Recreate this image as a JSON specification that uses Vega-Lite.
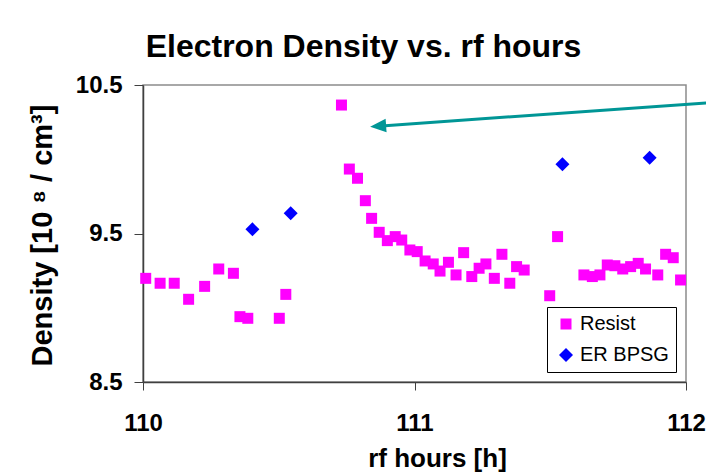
{
  "$schema": "https://vega.github.io/schema/vega-lite/v6.json",
  "width": 543,
  "height": 297,
  "autosize": "none",
  "padding": {"left": 143, "top": 85, "right": 20, "bottom": 90},
  "background": "white",
  "title": {
    "text": "Electron Density vs. rf hours",
    "font": "Liberation Sans",
    "fontSize": 32,
    "fontWeight": "bold",
    "color": "black",
    "anchor": "middle",
    "frame": "group",
    "dx": -51,
    "baseline": "alphabetic",
    "offset": -16
  },
  "config": {
    "font": "Liberation Sans",
    "view": {"stroke": "#8c8c8c", "strokeWidth": 1.5},
    "legend": {
      "orient": "none",
      "legendX": 404,
      "legendY": 222,
      "fillColor": "white",
      "strokeColor": "black",
      "padding": 7,
      "labelFont": "Liberation Sans",
      "labelFontSize": 20,
      "labelColor": "black",
      "symbolSize": 110,
      "symbolOffset": 2,
      "labelOffset": 4,
      "rowPadding": 11,
      "symbolStrokeWidth": 0,
      "symbolOpacity": 1
    }
  },
  "datasets": {
    "points": [
      {"series": "Resist", "hours": 110.010, "density": 9.198},
      {"series": "Resist", "hours": 110.063, "density": 9.165},
      {"series": "Resist", "hours": 110.115, "density": 9.165},
      {"series": "Resist", "hours": 110.168, "density": 9.057},
      {"series": "Resist", "hours": 110.227, "density": 9.144},
      {"series": "Resist", "hours": 110.279, "density": 9.261},
      {"series": "Resist", "hours": 110.333, "density": 9.232},
      {"series": "Resist", "hours": 110.357, "density": 8.940},
      {"series": "Resist", "hours": 110.386, "density": 8.929},
      {"series": "Resist", "hours": 110.502, "density": 8.929},
      {"series": "Resist", "hours": 110.526, "density": 9.090},
      {"series": "Resist", "hours": 110.731, "density": 10.365},
      {"series": "Resist", "hours": 110.760, "density": 9.934},
      {"series": "Resist", "hours": 110.790, "density": 9.872},
      {"series": "Resist", "hours": 110.819, "density": 9.721},
      {"series": "Resist", "hours": 110.842, "density": 9.602},
      {"series": "Resist", "hours": 110.870, "density": 9.508},
      {"series": "Resist", "hours": 110.900, "density": 9.452},
      {"series": "Resist", "hours": 110.929, "density": 9.479},
      {"series": "Resist", "hours": 110.953, "density": 9.456},
      {"series": "Resist", "hours": 110.983, "density": 9.389},
      {"series": "Resist", "hours": 111.010, "density": 9.378},
      {"series": "Resist", "hours": 111.039, "density": 9.315},
      {"series": "Resist", "hours": 111.069, "density": 9.295},
      {"series": "Resist", "hours": 111.094, "density": 9.247},
      {"series": "Resist", "hours": 111.125, "density": 9.306},
      {"series": "Resist", "hours": 111.153, "density": 9.221},
      {"series": "Resist", "hours": 111.181, "density": 9.371},
      {"series": "Resist", "hours": 111.211, "density": 9.210},
      {"series": "Resist", "hours": 111.238, "density": 9.266},
      {"series": "Resist", "hours": 111.263, "density": 9.295},
      {"series": "Resist", "hours": 111.294, "density": 9.198},
      {"series": "Resist", "hours": 111.322, "density": 9.360},
      {"series": "Resist", "hours": 111.351, "density": 9.165},
      {"series": "Resist", "hours": 111.376, "density": 9.277},
      {"series": "Resist", "hours": 111.404, "density": 9.254},
      {"series": "Resist", "hours": 111.498, "density": 9.081},
      {"series": "Resist", "hours": 111.527, "density": 9.479},
      {"series": "Resist", "hours": 111.624, "density": 9.221},
      {"series": "Resist", "hours": 111.655, "density": 9.210},
      {"series": "Resist", "hours": 111.683, "density": 9.221},
      {"series": "Resist", "hours": 111.710, "density": 9.288},
      {"series": "Resist", "hours": 111.738, "density": 9.283},
      {"series": "Resist", "hours": 111.767, "density": 9.261},
      {"series": "Resist", "hours": 111.796, "density": 9.277},
      {"series": "Resist", "hours": 111.824, "density": 9.299},
      {"series": "Resist", "hours": 111.851, "density": 9.261},
      {"series": "Resist", "hours": 111.896, "density": 9.221},
      {"series": "Resist", "hours": 111.925, "density": 9.360},
      {"series": "Resist", "hours": 111.953, "density": 9.337},
      {"series": "Resist", "hours": 111.980, "density": 9.187},
      {"series": "ER BPSG", "hours": 110.403, "density": 9.528},
      {"series": "ER BPSG", "hours": 110.544, "density": 9.636},
      {"series": "ER BPSG", "hours": 111.545, "density": 9.966},
      {"series": "ER BPSG", "hours": 111.866, "density": 10.010}
    ],
    "arrowLine": [
      {"hours": 110.866, "density": 10.223},
      {"hours": 112.2, "density": 10.395}
    ],
    "arrowHead": [
      {"hours": 110.866, "density": 10.223}
    ]
  },
  "layer": [
    {
      "data": {"name": "points"},
      "mark": {"type": "point", "filled": true, "opacity": 1, "strokeWidth": 0},
      "encoding": {
        "x": {
          "field": "hours",
          "type": "quantitative",
          "scale": {"domain": [110, 112], "nice": false, "zero": false},
          "axis": {
            "values": [110, 111, 112],
            "tickCount": 3,
            "tickMinStep": 0.5,
            "format": ".0f",
            "grid": false,
            "labelOverlap": false,
            "domainColor": "#404040",
            "domainWidth": 1.5,
            "tickColor": "#404040",
            "tickWidth": 1,
            "tickSize": 8,
            "labelFont": "Liberation Sans",
            "labelFontSize": 24,
            "labelFontWeight": "bold",
            "labelColor": "black",
            "labelPadding": 21,
            "labelFlush": false,
            "title": "rf hours [h]",
            "titleFont": "Liberation Sans",
            "titleFontSize": 26,
            "titleFontWeight": "bold",
            "titleColor": "black",
            "titleX": 294,
            "titleY": 84,
            "titleBaseline": "alphabetic"
          }
        },
        "y": {
          "field": "density",
          "type": "quantitative",
          "scale": {"domain": [8.5, 10.5], "nice": false, "zero": false},
          "axis": {
            "values": [8.5, 9.5, 10.5],
            "tickCount": 3,
            "tickMinStep": 0.5,
            "format": ".1f",
            "grid": false,
            "labelOverlap": false,
            "domainColor": "#404040",
            "domainWidth": 1.5,
            "tickColor": "#404040",
            "tickWidth": 1,
            "tickSize": 9,
            "labelFont": "Liberation Sans",
            "labelFontSize": 24,
            "labelFontWeight": "bold",
            "labelColor": "black",
            "labelPadding": 12,
            "labelFlush": false,
            "title": "Density [10 ⁸ / cm³]",
            "titleFont": "Liberation Sans",
            "titleFontSize": 29,
            "titleFontWeight": "bold",
            "titleColor": "black",
            "titleX": -92,
            "titleY": 150,
            "titleBaseline": "alphabetic"
          }
        },
        "color": {
          "field": "series",
          "type": "nominal",
          "scale": {"domain": ["Resist", "ER BPSG"], "range": ["#ff00ff", "#0000ff"]},
          "legend": {"title": null}
        },
        "shape": {
          "field": "series",
          "type": "nominal",
          "scale": {"domain": ["Resist", "ER BPSG"], "range": ["square", "diamond"]},
          "legend": {"title": null}
        },
        "size": {
          "field": "series",
          "type": "nominal",
          "scale": {"domain": ["Resist", "ER BPSG"], "range": [121, 196]},
          "legend": null
        }
      }
    },
    {
      "data": {"name": "arrowLine"},
      "mark": {"type": "line", "color": "#009696", "strokeWidth": 3, "clip": false},
      "encoding": {
        "x": {"field": "hours", "type": "quantitative"},
        "y": {"field": "density", "type": "quantitative"}
      }
    },
    {
      "data": {"name": "arrowHead"},
      "mark": {"type": "point", "filled": true, "opacity": 1, "color": "#009696", "shape": "M -1 0 L 1 -0.85 L 1 0.85 Z", "size": 256, "angle": -4, "strokeWidth": 0},
      "encoding": {
        "x": {"field": "hours", "type": "quantitative"},
        "y": {"field": "density", "type": "quantitative"}
      }
    }
  ]
}
